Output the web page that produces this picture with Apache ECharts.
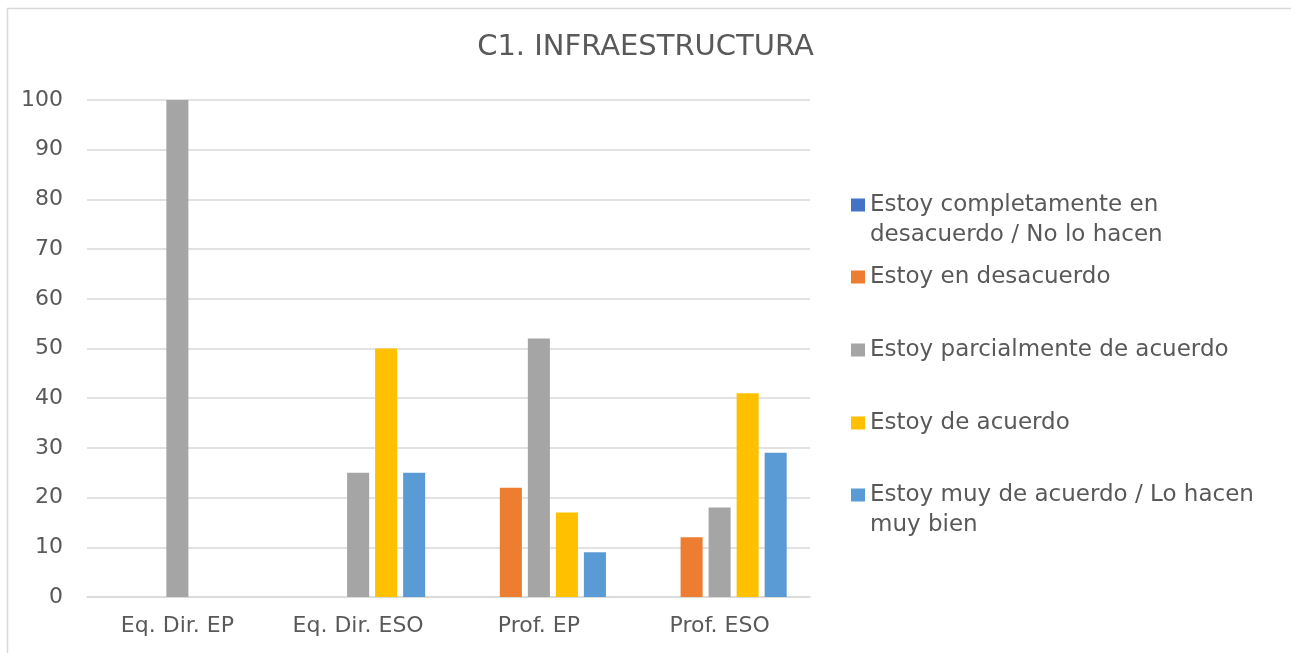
<!DOCTYPE html>
<html>
<head>
<meta charset="utf-8">
<script src="https://cdn.jsdelivr.net/npm/echarts@6/dist/echarts.min.js"></script>
<style>
  html, body { margin: 0; padding: 0; background: #fff; }
  #main { width: 1291px; height: 653px; }
</style>
</head>
<body>
<div id="main"></div>
<script>
// C1. Infraestructura - barras agrupadas por colectivo

var categorias = ['Eq. Dir. EP', 'Eq. Dir. ESO', 'Prof. EP', 'Prof. ESO'];
var nombres = [
    'Estoy completamente en desacuerdo / No lo hacen',
    'Estoy en desacuerdo',
    'Estoy parcialmente de acuerdo',
    'Estoy de acuerdo',
    'Estoy muy de acuerdo / Lo hacen muy bien'
];
var completamenteDesacuerdo = [0, 0, 0, 0];
var desacuerdo = [0, 0, 22, 12];
var parcialmente = [100, 25, 52, 18];
var deAcuerdo = [0, 50, 17, 41];
var muyDeAcuerdo = [0, 25, 9, 29];
var ticksY = [0, 10, 20, 30, 40, 50, 60, 70, 80, 90, 100];

var valores = [completamenteDesacuerdo, desacuerdo, parcialmente, deAcuerdo, muyDeAcuerdo];
var colores = ['#4472C4', '#ED7D31', '#A5A5A5', '#FFC000', '#5B9BD5'];
// texto de la leyenda partido en lineas como en el original
// (la linea vacia delante deja el icono a la altura de la primera linea)
var etiquetasLeyenda = [
    '\nEstoy completamente en\ndesacuerdo / No lo hacen',
    'Estoy en desacuerdo',
    'Estoy parcialmente de acuerdo',
    'Estoy de acuerdo',
    '\nEstoy muy de acuerdo / Lo hacen\nmuy bien'
];
var centrosLeyenda = [205, 277, 350, 423, 495];

var fuente = 'DejaVu Sans';
var gris = '#595959';

var myChart = echarts.init(document.getElementById('main'));

var leyendas = nombres.map(function (nombre, i) {
    var dosLineas = etiquetasLeyenda[i].charAt(0) == '\n';
    return {
        orient: 'vertical',
        left: 851,
        top: dosLineas ? centrosLeyenda[i] - 45 : centrosLeyenda[i] - 15,
        padding: 0,
        itemWidth: 14,
        itemHeight: 13,
        itemGap: 0,
        icon: 'rect',
        data: [nombre],
        formatter: function () {
            return etiquetasLeyenda[i];
        },
        textStyle: {
            fontFamily: fuente,
            fontSize: 23,
            color: gris,
            lineHeight: 30
        }
    };
});

option = {
    backgroundColor: '#fff',
    animation: false,
    color: colores,
    title: {
        text: 'C1. INFRAESTRUCTURA',
        left: 'center',
        top: 28,
        textStyle: {
            fontFamily: fuente,
            fontSize: 29,
            fontWeight: 'normal',
            color: gris
        }
    },
    graphic: [{
        type: 'rect',
        shape: { x: 7.5, y: 8.5, width: 1400, height: 700 },
        style: { fill: 'none', stroke: '#d9d9d9', lineWidth: 1.5 },
        silent: true
    }],
    legend: leyendas,
    grid: {
        left: 87,
        right: 481,
        top: 100,
        bottom: 56
    },
    xAxis: {
        type: 'category',
        data: categorias,
        axisTick: { show: false },
        axisLine: { lineStyle: { color: '#d9d9d9', width: 1.5 } },
        axisLabel: {
            fontFamily: fuente,
            fontSize: 22,
            color: gris,
            margin: 18
        }
    },
    yAxis: {
        type: 'value',
        min: ticksY[0],
        max: ticksY[ticksY.length - 1],
        interval: 10,
        axisLine: { show: false },
        axisTick: { show: false },
        splitLine: { lineStyle: { color: '#d9d9d9', width: 1.5 } },
        axisLabel: {
            fontFamily: fuente,
            fontSize: 22,
            color: gris,
            margin: 24
        }
    },
    series: nombres.map(function (nombre, i) {
        return {
            name: nombre,
            type: 'bar',
            data: valores[i],
            barGap: '27%',
            barCategoryGap: '25.8%',
            itemStyle: { color: colores[i] }
        };
    })
};

window.addEventListener('resize', function () {
    myChart.resize();
});
myChart.setOption(option);
</script>
</body>
</html>
